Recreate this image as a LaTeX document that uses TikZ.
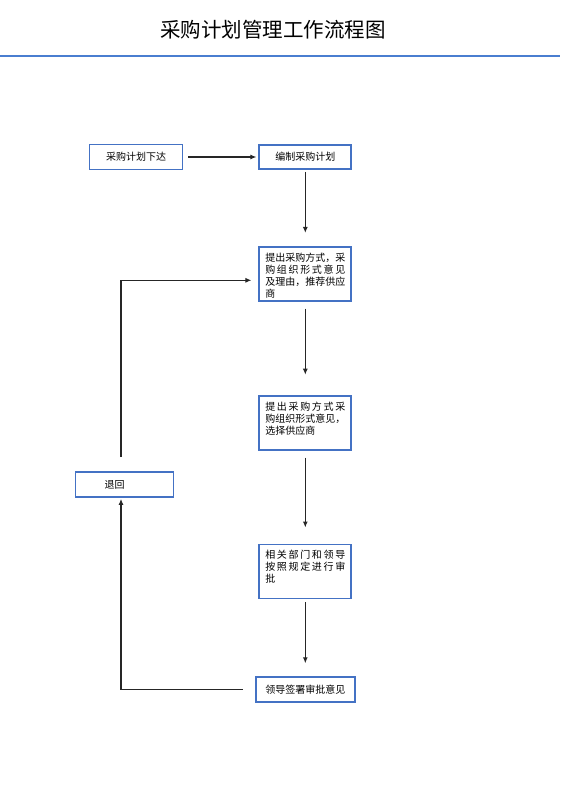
\documentclass[tikz,border=0pt]{standalone}
\usepackage{fontspec}
\setmainfont{Noto Sans CJK SC}
\usepackage{xcolor}
\usetikzlibrary{arrows,arrows.meta,positioning,calc}
\XeTeXlinebreaklocale "zh"
\XeTeXlinebreakskip=0pt plus 3pt
\definecolor{boxblue}{RGB}{68,114,196}
\definecolor{ruleblue}{RGB}{74,126,208}
\newlength\Textwd
\setlength\Textwd{80pt}
\newcommand\Textbox[2]{%
  \parbox[c][#1][t]{\Textwd}{\fontsize{10}{12}\selectfont#2}}

\begin{document}
\begin{tikzpicture}[x=1pt,y=-1pt,
        rect/.style={
          draw=boxblue, line width=1.8pt,
          minimum width=93pt, minimum height=25pt,
          inner sep=0pt, align=center,
          font=\fontsize{10}{12}\selectfont
        },
        tallrect/.style={
          draw=boxblue, line width=1.8pt,
          inner xsep=6pt, inner ysep=6pt
        },
        arr/.style={-{Latex[length=6pt,width=5pt]}, line width=1.1pt, black!85}]

        \useasboundingbox (0,0) rectangle (560,792);

        % Title
        \node (title) at (273,30) {\fontsize{20.5}{24}\selectfont 采购计划管理工作流程图};
        \draw [ruleblue, line width=1.5pt] (0,56) -- (560,56);

        % Boxes
        \node (issue) [rect] at (136,157) {采购计划下达};
        \node (draft) [rect, right=75pt of issue, minimum width=92pt, minimum height=24pt] {编制采购计划};
        \node (propose) [tallrect, below=76pt of draft] {
          \Textbox{42pt}{提出采购方式，采\linebreak 购组织形式意见\linebreak 及理由，推荐供应\linebreak 商}};
        \node (select) [tallrect, below=93pt of propose] {
          \Textbox{42pt}{提出采购方式采\linebreak 购组织形式意见，\linebreak 选择供应商}};
        \node (approve) [tallrect, below=93pt of select] {
          \Textbox{42pt}{相关部门和领导\linebreak 按照规定进行审\linebreak 批}};
        \node (sign) [rect, below=77pt of approve, minimum width=99pt] {领导签署审批意见};
        \node (back) [rect, align=left, text width=40pt, inner xsep=29pt, minimum height=25pt] at (124.5,484.5) {退回};

        % Arrows
        \draw [arr, shorten <=5pt, shorten >=2pt] (issue.east) -- (issue.east -| draft.west);
        \draw [arr, shorten <=2pt, shorten >=13pt] (draft) -- (propose);
        \draw [arr, shorten <=7pt, shorten >=20pt] (propose) -- (select);
        \draw [arr, shorten <=7pt, shorten >=16pt] (select) -- (approve);
        \draw [arr, shorten <=3pt, shorten >=13pt] (approve) -- (sign);

        % Return loop
        \coordinate (redo) at ($(propose.west)+(0,6.5)$);
        \draw [arr, shorten <=12pt, shorten >=1pt] (sign.west) -| ([xshift=-3.5pt]back.south);
        \draw [arr, shorten <=14pt, shorten >=7pt] ([xshift=-3.5pt]back.north) |- (redo);

      \end{tikzpicture}
\end{document}
